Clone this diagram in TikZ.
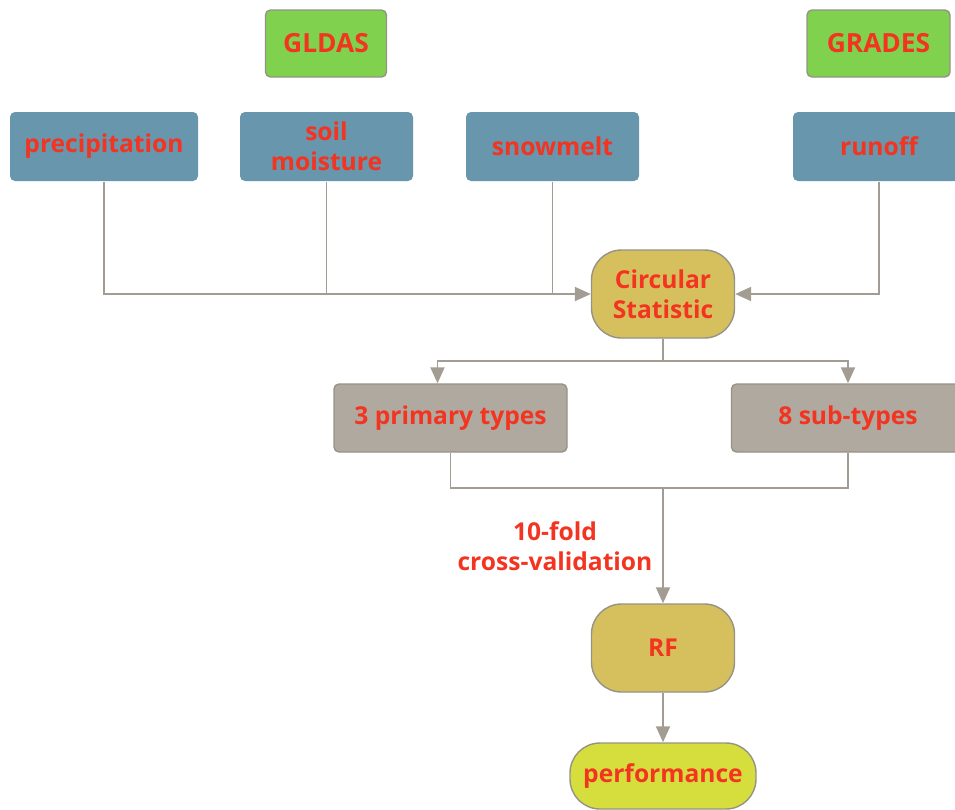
\documentclass[tikz,border=0pt]{standalone}
\usepackage{fontspec}
\setmainfont{Open Sans}
\usepackage{tikz}
\usetikzlibrary{arrows.meta,positioning,calc}
\definecolor{srcgreen}{RGB}{128,210,78}
\definecolor{varblue}{RGB}{104,150,172}
\definecolor{mustard}{RGB}{214,192,94}
\definecolor{lime}{RGB}{214,222,62}
\definecolor{typegray}{RGB}{176,169,159}
\definecolor{edgegray}{RGB}{150,146,134}
\definecolor{linegray}{RGB}{162,156,146}
\definecolor{txtred}{RGB}{242,52,32}

\begin{document}
\begin{tikzpicture}[
    box/.style={draw=edgegray, line width=0.8pt, rounded corners=0.1cm, align=center,
        text=txtred, font=\fontsize{14}{17}\selectfont\bfseries, inner sep=0pt},
    srcbox/.style={box, fill=srcgreen, minimum width=2.42cm, minimum height=1.34cm},
    varbox/.style={box, fill=varblue, draw=none, minimum width=3.46cm, minimum height=1.38cm},
    typebox/.style={box, fill=typegray, minimum width=4.66cm, minimum height=1.36cm},
    procbox/.style={box, fill=mustard, rounded corners=0.6cm, minimum width=2.86cm, minimum height=1.76cm},
    resbox/.style={box, fill=lime, rounded corners=0.6cm, minimum width=3.72cm, minimum height=1.32cm},
    link/.style={draw=linegray, line width=1.1pt},
    flow/.style={link, -{Triangle[length=0.32cm, width=0.28cm]}}
]
\useasboundingbox (0,0) rectangle (19.1,-16.18);
\clip (0,0) rectangle (19.1,-16.18);

% data sources
\node[srcbox, font=\fontsize{15}{17}\selectfont\bfseries] (gldas) at (6.52, -0.87) {GLDAS};
\node[srcbox, font=\fontsize{15}{17}\selectfont\bfseries, minimum width=2.86cm] (grades) at (17.57, -0.87) {GRADES};

% variables
\node[varbox, minimum width=3.76cm] (precip) at (2.08, -2.93) {precipitation};
\node[varbox] (soil) at (6.53, -2.93) {soil\\moisture};
\node[varbox] (snow) at (11.05, -2.93) {snowmelt};
\node[varbox, minimum width=3.44cm] (runoff) at (17.58, -2.93) {runoff};

% classification
\node[procbox] (circ) at (13.26, -5.88) {Circular\\Statistic};
\node[typebox] (types3) at (9.01, -8.36) {3 primary types};
\node[typebox] (types8) at (16.96, -8.36) {8 sub-types};

% model
\node[procbox] (rf) at (13.26, -12.96) {RF};
\node[resbox] (perf) at (13.26, -15.52) {performance};
\node[text=txtred, font=\fontsize{14}{17}\selectfont\bfseries, align=center] (cv) at (11.1, -10.92) {10-fold\\cross-validation};

% inputs to the circular statistic
\draw[flow] (precip.south) |- (circ.west);
\draw[link] (soil.south) -- (soil.south |- circ.west);
\draw[link] (snow.south) -- (snow.south |- circ.west);
\draw[flow] (runoff.south) |- (circ.east);

% split into types
\coordinate (split) at ($(circ.south)+(0,-0.44)$);
\draw[link] (circ.south) -- (split);
\draw[flow] (split) -| ([xshift=-0.26cm]types3.north);
\draw[flow] (split) -| (types8.north);

% merge into RF
\coordinate (merge) at ($(types3.south)+(0,-0.7)$);
\draw[link] (types3.south) -- (merge) -| (types8.south);
\draw[flow] (merge -| rf.north) -- (rf.north);
\draw[flow] (rf.south) -- (perf.north);

\end{tikzpicture}
\end{document}
